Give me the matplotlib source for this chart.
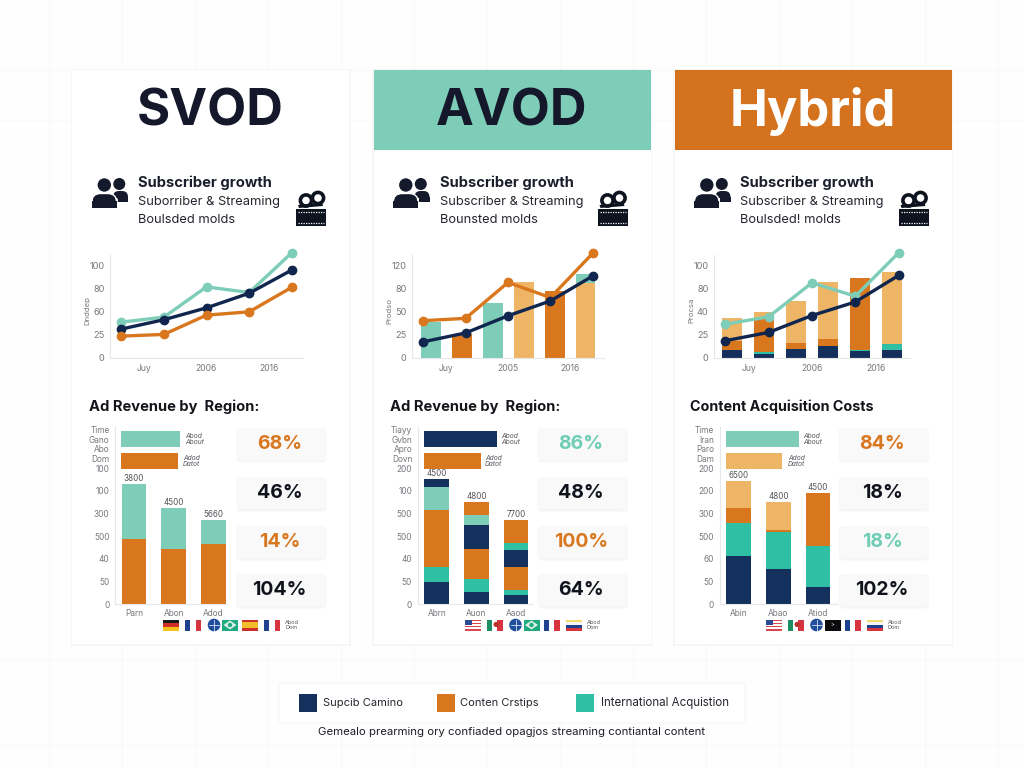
import numpy as np
import matplotlib
matplotlib.use('Agg')
from matplotlib import pyplot as plt
from matplotlib.patches import Rectangle, Circle, FancyBboxPatch, Polygon

plt.rcParams['font.family'] = ['Inter', 'DejaVu Sans']

NAVY = '#14305c'
LINE_NAVY = '#11264e'
ORANGE = '#d9771e'
LIGHT = '#efb566'
MINT = '#7dcdb8'
TEAL = '#2fbfa5'
INK = '#14182a'
GREY = '#77787e'
AXIS = '#e6e7ea'

W, H = 1024, 768

# trend panels, positions on an evenly spaced tick scale of 0-100
svod_mint = [38.8, 44.2, 77.0, 70.9, 114.0]
svod_navy = [31.3, 41.4, 54.3, 70.1, 95.3]
svod_orange = [23.7, 25.5, 46.4, 50.0, 76.6]
svod_ticks = ['0', '25', '60', '80', '100']

avod_orange = [40.4, 42.9, 81.8, 65.4, 113.6]
avod_navy = [17.5, 27.1, 45.7, 61.8, 88.9]
avod_bars = [39.3, 25.7, 60.0, 81.8, 72.9, 80.7]
avod_bar_colors = [MINT, ORANGE, MINT, LIGHT, ORANGE, LIGHT]
avod_back_bar = [0, 0, 0, 0, 0, 90.7]
avod_ticks = ['0', '25', '50', '80', '120']

hybrid_mint = [36.7, 44.6, 81.4, 66.9, 114.0]
hybrid_navy = [18.7, 27.7, 46.0, 60.7, 89.5]
hybrid_ticks = ['0', '25', '40', '80', '100']
hybrid_seg_navy = [8.3, 4.3, 10.1, 12.6, 7.2, 8.3]
hybrid_seg_teal = [0, 2.5, 0, 0, 1.8, 6.8]
hybrid_seg_orange = [9.7, 36.3, 6.5, 7.9, 78.1, 0]
hybrid_seg_light = [25.5, 6.8, 45.0, 62.2, 0, 77.5]

# stacked panels, as (value, colour) from the baseline up
svod_stacks = [[(2.88, ORANGE), (2.41, MINT)],
               [(2.41, ORANGE), (1.82, MINT)],
               [(2.66, ORANGE), (1.03, MINT)]]
avod_stacks = [[(0.99, NAVY), (0.66, TEAL), (2.50, ORANGE), (1.04, MINT), (0.32, NAVY)],
               [(0.54, NAVY), (0.56, TEAL), (1.32, ORANGE), (1.07, NAVY), (0.43, MINT), (0.57, ORANGE)],
               [(0.40, NAVY), (0.22, TEAL), (1.03, ORANGE), (0.75, NAVY), (0.29, TEAL), (1.01, ORANGE)]]
hybrid_stacks = [[(2.13, NAVY), (1.46, TEAL), (0.65, ORANGE), (1.18, LIGHT)],
                 [(1.53, NAVY), (1.66, TEAL), (0.06, ORANGE), (1.24, LIGHT)],
                 [(0.74, NAVY), (1.84, TEAL), (2.31, ORANGE)]]

svod_totals = ['3800', '4500', '5660']
avod_totals = ['4500', '4800', '7700']
hybrid_totals = ['6500', '4800', '4500']
svod_cats = ['Parn', 'Abon', 'Adod']
avod_cats = ['Abrn', 'Auon', 'Aaod']
hybrid_cats = ['Abin', 'Abao', 'Atiod']

svod_side = ['Time', 'Gano', 'Abo', 'Dom', '100', '100', '300', '500', '40', '50', '0']
avod_side = ['Tiayy', 'Gvbn', 'Apro', 'Dovn', '200', '100', '500', '500', '40', '50', '0']
hybrid_side = ['Time', 'Iran', 'Paro', 'Dam', '200', '200', '300', '500', '60', '50', '0']

svod_hbars = [(3.0, MINT), (2.9, ORANGE)]
avod_hbars = [(3.7, NAVY), (2.87, ORANGE)]
hybrid_hbars = [(3.72, MINT), (2.86, LIGHT)]

svod_pills = [('68%', ORANGE), ('46%', '#10131c'), ('14%', ORANGE), ('104%', '#10131c')]
avod_pills = [('86%', '#6fcdb4'), ('48%', '#10131c'), ('100%', ORANGE), ('64%', '#10131c')]
hybrid_pills = [('84%', ORANGE), ('18%', '#10131c'), ('18%', '#6fcdb4'), ('102%', '#10131c')]

legend_names = ['Supcib Camino', 'Conten Crstips', 'International Acquistion']
legend_colors = [NAVY, ORANGE, TEAL]
caption = 'Gemealo prearming ory confiaded opagjos streaming contiantal content'


def px_axes(fig, left, top, right, bottom):
    ax = fig.add_axes([left / W, 1 - bottom / H, (right - left) / W, (bottom - top) / H])
    ax.patch.set_alpha(0)
    return ax


def trend_axes(fig, left, right, ticks, ylabel):
    ax = px_axes(fig, left, 255, right, 358)
    ax.set_xlim(-0.26, 4.26)
    ax.set_ylim(0, 111.5)
    ax.set_yticks([0, 25, 50, 75, 100], ticks)
    ax.set_xticks([0.54, 2.0, 3.47], XLABELS[ylabel])
    ax.tick_params(length=0, labelsize=6.2, labelcolor=GREY, pad=4.5)
    ax.tick_params(axis='y', labelsize=6.6, pad=4)
    for s in ['top', 'right']:
        ax.spines[s].set_visible(False)
    for s in ['left', 'bottom']:
        ax.spines[s].set_color(AXIS)
    ax.set_ylabel(ylabel, fontsize=5.6, color=GREY)
    ax.yaxis.set_label_coords(-0.1, 0.46)
    return ax


def trend_line(ax, values, color):
    ax.plot(range(5), values, color=color, lw=2.4, marker='o', ms=6, clip_on=False, zorder=5)


XLABELS = {'Dnddep': ['Juy', '2006', '2016'],
           'Prodso': ['Juy', '2005', '2016'],
           'Procsa': ['Juy', '2006', '2016']}


def stack_axes(fig, left, right, stacks, totals, cats, side, hbars, hbar_left):
    ax = px_axes(fig, left, 427, right, 604)
    step = 39.7
    ax.set_xlim(-(19.0) / step, (right - left - 19.0) / step)
    ax.set_ylim(0, 7.82)
    for i, stack in enumerate(stacks):
        base = 0
        for val, col in stack:
            ax.bar(i, val, 0.62, bottom=base, color=col)
            base += val
        ax.annotate(totals[i], (i, base), xytext=(0, 1), textcoords='offset points',
                    ha='center', va='bottom', fontsize=5.8, color='#55565c')
    ax.barh(7.29, hbars[0][0] * 0.5, 0.71, left=hbar_left, color=hbars[0][1])
    ax.barh(6.32, hbars[1][0] * 0.5, 0.71, left=hbar_left, color=hbars[1][1])
    ax.set_xticks(range(3), cats)
    ax.set_yticks([7.69, 7.26, 6.85, 6.43, 6, 5, 4, 3, 2, 1, 0], side)
    ax.tick_params(length=0, labelsize=6.0, labelcolor=GREY, pad=3.5)
    ax.tick_params(axis='y', pad=4)
    for s in ['top', 'right']:
        ax.spines[s].set_visible(False)
    for s in ['left', 'bottom']:
        ax.spines[s].set_color(AXIS)
    return ax


def people_icon(bg, dx):
    c = '#141a2b'
    bg.add_patch(Circle((119.3 + dx, 184), 5.3, color=c))
    bg.add_patch(FancyBboxPatch((113 + dx, 191), 15, 11, boxstyle='round,pad=0,rounding_size=6', color=c, lw=0))
    bg.add_patch(Rectangle((113 + dx, 197), 15, 5, color=c, lw=0))
    bg.add_patch(Circle((104.3 + dx, 185), 7.4, ec='white', fc=c, lw=1))
    bg.add_patch(FancyBboxPatch((91.7 + dx, 193.5), 25, 14, boxstyle='round,pad=0,rounding_size=9', ec='white', fc=c, lw=1))
    bg.add_patch(Rectangle((91.7 + dx, 201), 25, 6.5, color=c, lw=0))


def camera_icon(bg, dx):
    c = '#0d1420'
    for cx, cy in [(306, 200.5), (318, 198)]:
        bg.add_patch(Circle((cx + dx, cy), 5.6, fc='white', ec=c, lw=2.6))
    bg.add_patch(Polygon([(298 + dx, 205), (322 + dx, 203), (323 + dx, 206), (299 + dx, 208)], color=c, lw=0))
    bg.add_patch(Rectangle((296 + dx, 209), 30, 17, color=c, lw=0))
    for y in [212, 223]:
        bg.plot([298 + dx, 324 + dx], [y, y], color='white', lw=0.9, ls=(0, (1, 1)))


def flag(bg, kind, x, w=16, y=619.5, h=11):
    if kind == 'de':
        for i, col in enumerate(['#1a1a1a', '#d22f27', '#f6c21c']):
            bg.add_patch(Rectangle((x, y + i * h / 3), w, h / 3, color=col, lw=0))
    elif kind == 'fr':
        for i, col in enumerate(['#1f3f8f', '#ffffff', '#d8343f']):
            bg.add_patch(Rectangle((x + i * w / 3, y), w / 3, h, color=col, lw=0))
    elif kind == 'globe':
        bg.add_patch(Circle((x + w / 2, y + h / 2), h / 2 + 0.8, color='#1f4f9c', lw=0))
        bg.plot([x + w / 2, x + w / 2], [y, y + h], color='white', lw=0.5)
        bg.plot([x + 3, x + w - 3], [y + h / 2, y + h / 2], color='white', lw=0.5)
    elif kind == 'br':
        bg.add_patch(Rectangle((x, y), w, h, color='#1faa82', lw=0))
        bg.add_patch(Polygon([(x + 1.5, y + h / 2), (x + w / 2, y + 1), (x + w - 1.5, y + h / 2), (x + w / 2, y + h - 1)],
                             fc='#dff0e4', ec='none'))
        bg.add_patch(Circle((x + w / 2, y + h / 2), 2.2, color='#1faa82', lw=0))
    elif kind == 'es':
        bg.add_patch(Rectangle((x, y), w, h, color='#c8322b', lw=0))
        bg.add_patch(Rectangle((x, y + h / 4), w, h / 2, color='#f3bd2c', lw=0))
    elif kind == 'us':
        for i in range(7):
            bg.add_patch(Rectangle((x, y + i * h / 7), w, h / 7, color='#d9484f' if i % 2 == 0 else '#ffffff', lw=0))
        bg.add_patch(Rectangle((x, y), w * 0.45, h * 0.5, color='#2d4a94', lw=0))
    elif kind == 'mx':
        for i, col in enumerate(['#1c8f62', '#ffffff', '#d8343f']):
            bg.add_patch(Rectangle((x + i * w / 3, y), w / 3, h, color=col, lw=0))
        bg.add_patch(Circle((x + w * 0.6, y + h * 0.45), 2.6, color='#b5342a', lw=0))
    elif kind == 'ru':
        for i, col in enumerate(['#f4d96b', '#f4f4f4', '#1f3f8f', '#d8343f']):
            bg.add_patch(Rectangle((x, y + i * h / 4), w, h / 4, color=col, lw=0))
    elif kind == 'dark':
        bg.add_patch(Rectangle((x, y), w, h, color='#0b0b0d', lw=0))
        bg.text(x + w / 2, y + h / 2, '>', color='white', fontsize=4, ha='center', va='center')


fig = plt.figure(figsize=(W / 100, H / 100), dpi=100, facecolor='#fefefe')
bg = fig.add_axes([0, 0, 1, 1])
bg.set_xlim(0, W)
bg.set_ylim(H, 0)
bg.axis('off')

# faint backdrop lattice, mostly upright strokes
for x in np.arange(49, W, 73):
    bg.plot([x, x], [0, H], color='#f9f9fa', lw=0.8, zorder=0)
for y in [70, 120, 660, 745]:
    bg.plot([0, W], [y, y], color='#fafafb', lw=0.8, zorder=0)

card_dx = [0, 301.5, 602.5]
titles = ['SVOD', 'AVOD', 'Hybrid']
title_colors = [INK, INK, 'white']
head_colors = ['white', MINT, '#d4721d']
sub_lines = [('Suborriber & Streaming', 'Boulsded molds'),
             ('Subscriber & Streaming', 'Bounsted molds'),
             ('Subscriber & Streaming', 'Boulsded! molds')]
section = ['Ad Revenue by  Region:', 'Ad Revenue by  Region:', 'Content Acquisition Costs']
section_size = [10.6, 10.6, 10.35]
section_x = [89, 390.5, 690]
pills = [svod_pills, avod_pills, hybrid_pills]
flags = [['de', 'fr', 'globe', 'br', 'es', 'fr'],
         ['us', 'mx', 'globe', 'br', 'fr', 'ru'],
         ['us', 'mx', 'globe', 'dark', 'fr', 'ru']]
flag_x = [163, 185, 206, 222, 242, 264]
note_one = [185, 501, 803]
note_two = [183, 485, 788]

for i, dx in enumerate(card_dx):
    bg.add_patch(Rectangle((70.5 + dx, 69), 280, 577, fc='#f6f6f7', ec='none', zorder=1))
    bg.add_patch(Rectangle((72 + dx, 70), 277, 574, fc='white', ec='none', zorder=1))
    bg.add_patch(Rectangle((72 + dx, 70), 277, 80, fc=head_colors[i], ec='none', zorder=1))
    bg.text(210.5 + dx, 112, titles[i], fontsize=36.5, fontweight='bold', color=title_colors[i],
            ha='center', va='center', zorder=3)

    people_icon(bg, dx)
    camera_icon(bg, dx)
    bg.text(138 + dx, 183, 'Subscriber growth', fontsize=10.6, fontweight='bold', color='#1b1f2c', va='center')
    bg.text(138 + dx, 202, sub_lines[i][0], fontsize=9.25, color='#24262f', va='center')
    bg.text(138 + dx, 220, sub_lines[i][1], fontsize=9.25, color='#24262f', va='center')
    bg.text(section_x[i], 407, section[i], fontsize=section_size[i], fontweight='bold', color='#15161c', va='center')

    for (label, col), top in zip(pills[i], [428, 477, 526, 574]):
        bg.add_patch(FancyBboxPatch((241 + dx, top + 5), 81, 25, boxstyle='round,pad=4.5',
                                    fc='#f0f0f2', ec='none', alpha=0.6, zorder=1.5))
        bg.add_patch(FancyBboxPatch((240 + dx, top + 4), 82, 24, boxstyle='round,pad=4',
                                    fc='#f9f9fa', ec='none', zorder=1.6))
        bg.text(279.5 + dx, top + 16, label, fontsize=14, fontweight='bold', color=col,
                ha='center', va='center', zorder=3)

    for kind, fx in zip(flags[i], flag_x):
        flag(bg, kind, fx + dx)
    bg.text(285 + dx, 625, 'Abod\nDom', fontsize=4, color='#55565c', va='center', linespacing=1.0)

    # little notes beside the horizontal bars
    bg.text(note_one[i], 439, 'Abod\nAbout', fontsize=4.8, style='italic', color='#55565c', va='center', linespacing=1.0)
    bg.text(note_two[i], 461, 'Adod\nDatot', fontsize=4.8, style='italic', color='#55565c', va='center', linespacing=1.0)

# SVOD trend
ax = trend_axes(fig, 110, 303, svod_ticks, 'Dnddep')
trend_line(ax, svod_mint, MINT)
trend_line(ax, svod_navy, LINE_NAVY)
trend_line(ax, svod_orange, ORANGE)

# AVOD trend with bars behind the lines
ax = trend_axes(fig, 412, 604, avod_ticks, 'Prodso')
bar_x = 0.186 + 0.729 * np.arange(6)
ax.bar(bar_x, avod_back_bar, 0.457, color=MINT)
ax.bar(bar_x, avod_bars, 0.457, color=avod_bar_colors)
trend_line(ax, avod_orange, ORANGE)
trend_line(ax, avod_navy, LINE_NAVY)

# Hybrid trend with stacked bars
ax = trend_axes(fig, 714, 910, hybrid_ticks, 'Procsa')
bar_x = 0.164 + 0.736 * np.arange(6)
base = np.zeros(6)
for seg, col in [(hybrid_seg_navy, NAVY), (hybrid_seg_teal, TEAL), (hybrid_seg_orange, ORANGE), (hybrid_seg_light, LIGHT)]:
    ax.bar(bar_x, seg, 0.46, bottom=base, color=col)
    base = base + np.array(seg)
trend_line(ax, hybrid_mint, MINT)
trend_line(ax, hybrid_navy, LINE_NAVY)

stack_axes(fig, 115, 227, svod_stacks, svod_totals, svod_cats, svod_side, svod_hbars, -0.33)
stack_axes(fig, 417.7, 532, avod_stacks, avod_totals, avod_cats, avod_side, avod_hbars, -0.33)
stack_axes(fig, 719.7, 837, hybrid_stacks, hybrid_totals, hybrid_cats, hybrid_side, hybrid_hbars, -0.33)

# legend strip and caption
bg.add_patch(FancyBboxPatch((282, 686), 460, 34, boxstyle='round,pad=3', fc='white', ec='#f6f6f7', lw=0.8, zorder=1))
for name, col, sx, tx, fs in zip(legend_names, legend_colors, [299, 437, 576], [323, 460, 601], [8.0, 8.0, 8.3]):
    bg.add_patch(Rectangle((sx, 694), 18, 18, color=col, lw=0, zorder=2))
    bg.text(tx, 703, name, fontsize=fs, color='#24262f', va='center', zorder=3)
bg.text(512, 732, caption, fontsize=8.2, color='#1d1f27', ha='center', va='center')

fig.savefig('out.png', dpi=100, facecolor=fig.get_facecolor())
